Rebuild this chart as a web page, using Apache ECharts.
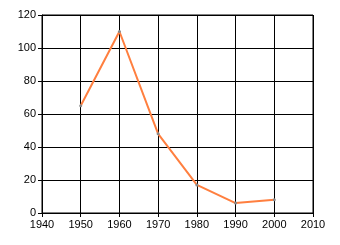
<!DOCTYPE html>
<html><head><meta charset="utf-8">
<script src="https://cdn.jsdelivr.net/npm/echarts@6/dist/echarts.min.js"></script>
<style>html,body{margin:0;padding:0;background:#fff}#c{width:340px;height:245px}</style>
</head><body><div id="c"></div>
<script>
const years = [1950, 1960, 1970, 1980, 1990, 2000];
const values = [65, 110, 48, 17, 6, 8];
const chart = echarts.init(document.getElementById('c'), null, {renderer: 'canvas'});
const axisCommon = {
  axisLine: {show: true, lineStyle: {color: '#000', width: 1}},
  axisTick: {show: true, length: 4, lineStyle: {color: '#000'}},
  splitLine: {show: true, lineStyle: {color: '#000', width: 1}}
};
const labelStyle = {color: '#000', fontFamily: 'Liberation Sans', fontSize: 11, margin: 6,
                    formatter: v => String(v)};
chart.setOption({
  animation: false,
  grid: {left: 42, right: 27, top: 15, bottom: 32, containLabel: false,
         show: true, borderColor: '#000', borderWidth: 1},
  xAxis: Object.assign({type: 'value', min: 1940, max: 2010, interval: 10}, axisCommon,
    {axisLabel: labelStyle}),
  yAxis: Object.assign({type: 'value', min: 0, max: 120, interval: 20}, axisCommon,
    {axisLabel: labelStyle}),
  series: [{
    type: 'line',
    data: years.map((y, i) => [y, values[i]]),
    lineStyle: {color: '#FF7F3F', width: 2},
    symbol: 'circle', symbolSize: 3,
    itemStyle: {color: '#888', borderWidth: 0},
    z: 5
  }]
});
</script></body></html>
